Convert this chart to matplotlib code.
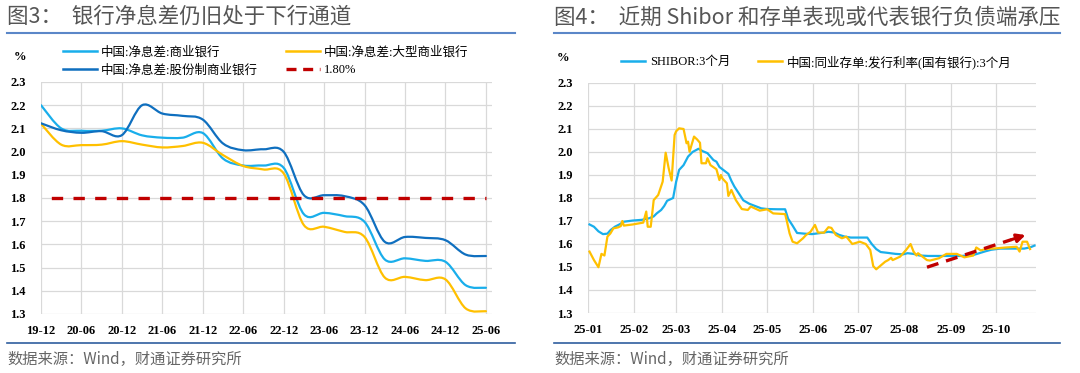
import numpy as np
import pandas as pd
import matplotlib
matplotlib.use("Agg")
import matplotlib.pyplot as plt
import matplotlib.dates as mdates
from matplotlib.path import Path
from matplotlib.patches import PathPatch
from matplotlib.lines import Line2D

# ---------------- data: left chart (quarterly NIM, %) ----------------
quarters = ["2019-12", "2020-03", "2020-06", "2020-09", "2020-12", "2021-03", "2021-06",
            "2021-09", "2021-12", "2022-03", "2022-06", "2022-09", "2022-12", "2023-03",
            "2023-06", "2023-09", "2023-12", "2024-03", "2024-06", "2024-09", "2024-12",
            "2025-03", "2025-06"]
nim_commercial = [2.20, 2.10, 2.09, 2.09, 2.10, 2.07, 2.06, 2.06, 2.08, 1.97, 1.94, 1.94,
                  1.93, 1.73, 1.736, 1.722, 1.697, 1.535, 1.54, 1.529, 1.525, 1.424, 1.413]
nim_large = [2.12, 2.03, 2.028, 2.03, 2.045, 2.03, 2.018, 2.024, 2.038, 1.985, 1.938, 1.923,
             1.906, 1.683, 1.676, 1.654, 1.632, 1.457, 1.46, 1.446, 1.449, 1.324, 1.312]
nim_jointstock = [2.122, 2.092, 2.081, 2.088, 2.071, 2.20, 2.164, 2.154, 2.138, 2.035, 2.006,
                  2.01, 1.999, 1.812, 1.812, 1.808, 1.769, 1.611, 1.632, 1.628, 1.618, 1.556, 1.55]
threshold = 1.80
left_ticks = ["19-12", "20-06", "20-12", "21-06", "21-12", "22-06", "22-12", "23-06",
              "23-12", "24-06", "24-12", "25-06"]
left_labels = ["中国:净息差:商业银行", "中国:净息差:大型商业银行",
               "中国:净息差:股份制商业银行", "1.80%"]

# ---------------- data: right chart (daily rates, %) ----------------
shibor_dates = ["01-02", "01-05", "01-08", "01-11", "01-14", "01-16", "01-19", "01-22", "01-25",
                "01-31", "02-06", "02-11", "02-14", "02-16", "02-19", "02-21", "02-23", "02-27",
                "03-01", "03-03", "03-06", "03-09", "03-12", "03-16", "03-19", "03-22", "03-24",
                "03-26", "03-28", "03-30", "04-01", "04-05", "04-07", "04-09", "04-12", "04-15",
                "04-19", "04-23", "04-27", "05-01", "05-08", "05-13", "05-15", "05-18", "05-21",
                "05-26", "05-31", "06-06", "06-11", "06-15", "06-18", "06-22", "06-26", "07-02",
                "07-07", "07-10", "07-13", "07-16", "07-20", "07-26", "07-31", "08-03", "08-07",
                "08-11", "08-17", "08-29", "09-08", "09-16", "09-20", "09-24", "09-28", "10-04",
                "10-13", "10-20", "10-24", "10-27"]
shibor_3m = [1.685, 1.675, 1.655, 1.643, 1.645, 1.66, 1.675, 1.685, 1.697,
             1.702, 1.705, 1.712, 1.72, 1.733, 1.748, 1.765, 1.788, 1.80,
             1.87, 1.922, 1.943, 1.98, 2.00, 2.014, 2.003, 1.995, 1.98,
             1.965, 1.958, 1.935, 1.925, 1.905, 1.875, 1.85, 1.82, 1.79,
             1.775, 1.765, 1.755, 1.752, 1.751, 1.751, 1.71, 1.68, 1.648,
             1.645, 1.643, 1.648, 1.653, 1.65, 1.64, 1.632, 1.628, 1.628,
             1.628, 1.60, 1.578, 1.565, 1.562, 1.557, 1.555, 1.56, 1.557,
             1.55, 1.548, 1.548, 1.548, 1.552, 1.56, 1.568, 1.575, 1.58,
             1.58, 1.58, 1.585, 1.593]
cd_dates = ["01-02", "01-05", "01-08", "01-10", "01-12", "01-14", "01-16", "01-18", "01-21",
            "01-23", "01-24", "01-25", "01-31", "02-07", "02-09", "02-10", "02-12", "02-14",
            "02-17", "02-20", "02-22", "02-24", "02-26", "02-28", "03-01", "03-03", "03-06",
            "03-08", "03-09", "03-10", "03-13", "03-15", "03-17", "03-18", "03-21", "03-22",
            "03-24", "03-28", "03-30", "03-31", "04-01", "04-04", "04-05", "04-07", "04-10",
            "04-14", "04-18", "04-20", "04-26", "05-01", "05-05", "05-13", "05-14", "05-16",
            "05-18", "05-21", "05-25", "05-27", "05-30", "06-02", "06-04", "06-08", "06-11",
            "06-13", "06-16", "06-20", "06-23", "06-27", "07-02", "07-06", "07-09", "07-11",
            "07-13", "07-19", "07-21", "07-23", "07-24", "07-29", "08-02", "08-05", "08-07",
            "08-09", "08-10", "08-13", "08-16", "08-18", "08-24", "08-29", "09-05", "09-10",
            "09-16", "09-18", "09-21", "09-24", "09-28", "10-01", "10-08", "10-15", "10-17",
            "10-19", "10-22", "10-24"]
cd_3m = [1.567, 1.53, 1.499, 1.557, 1.55, 1.632, 1.646, 1.668, 1.672,
         1.678, 1.70, 1.68, 1.685, 1.693, 1.741, 1.675, 1.675, 1.791,
         1.813, 1.871, 1.997, 1.93, 1.876, 2.074, 2.09, 2.103, 2.10,
         2.038, 2.045, 2.001, 2.067, 2.055, 2.04, 1.951, 1.951, 1.973,
         1.943, 1.925, 1.878, 1.90, 1.885, 1.864, 1.809, 1.835, 1.791,
         1.752, 1.748, 1.763, 1.745, 1.751, 1.733, 1.73, 1.704, 1.646,
         1.61, 1.603, 1.625, 1.639, 1.653, 1.683, 1.65, 1.649, 1.673,
         1.67, 1.639, 1.625, 1.632, 1.60, 1.61, 1.60, 1.574, 1.504,
         1.49, 1.523, 1.53, 1.54, 1.53, 1.545, 1.574, 1.60, 1.567,
         1.55, 1.56, 1.545, 1.53, 1.528, 1.538, 1.557, 1.557, 1.542,
         1.55, 1.585, 1.572, 1.578, 1.58, 1.581, 1.585, 1.588, 1.567,
         1.61, 1.61, 1.578]
right_ticks = ["25-01", "25-02", "25-03", "25-04", "25-05", "25-06", "25-07", "25-08",
               "25-09", "25-10"]
right_labels = ["SHIBOR:3个月", "中国:同业存单:发行利率(国有银行):3个月"]

yticks = [1.3, 1.4, 1.5, 1.6, 1.7, 1.8, 1.9, 2.0, 2.1, 2.2, 2.3]

# ---------------- styling ----------------
W, H = 1080, 373
C_CYAN = "#19AEEB"
C_YELLOW = "#FFC000"
C_BLUE = "#0F6FBF"
C_RED = "#C00000"
GRID = "#D9D9D9"
TICK_FONT = dict(family="Liberation Serif", weight="bold", size=9)
LEG_FAMILY = ["Liberation Serif", "Noto Sans CJK SC"]

fig = plt.figure(figsize=(W / 100, H / 100), dpi=100)


def fx(px):
    return px / W


def fy(py):
    return 1 - py / H


def smooth_path(x, y):
    x = np.asarray(x, float)
    y = np.asarray(y, float)
    n = len(x)
    verts = [(x[0], y[0])]
    codes = [Path.MOVETO]
    for i in range(n - 1):
        a = i - 1 if i > 0 else i
        d = i + 2 if i + 2 < n else i + 1
        c1 = (x[i] + (x[i + 1] - x[a]) / 6, y[i] + (y[i + 1] - y[a]) / 6)
        c2 = (x[i + 1] - (x[d] - x[i]) / 6, y[i + 1] - (y[d] - y[i]) / 6)
        verts += [c1, c2, (x[i + 1], y[i + 1])]
        codes += [Path.CURVE4] * 3
    return Path(verts, codes)


def style_axes(ax):
    for s in ax.spines.values():
        s.set_visible(False)
    ax.grid(True, color=GRID, lw=0.9)
    ax.set_axisbelow(True)
    ax.tick_params(length=0)
    ax.set_ylim(1.3, 2.3)
    ax.set_yticks(yticks)
    ax.set_yticklabels([f"{v:.1f}" for v in yticks], fontdict=TICK_FONT)
    ax.tick_params(axis="y", pad=11)
    ax.tick_params(axis="x", pad=8)


legprops = dict(family=LEG_FAMILY, size=9)
LEGKW = dict(frameon=False, prop=legprops, handletextpad=0.35, labelspacing=0.45,
             borderpad=0, borderaxespad=0)

# ---------------- left chart ----------------
axL = fig.add_axes([fx(41), fy(314), fx(451), 232 / H])
style_axes(axL)
qper = pd.PeriodIndex(quarters, freq="M")
base = pd.Period("2019-12", freq="M")
mx = np.array([(p - base).n for p in qper], float)

for vals, col in [(nim_commercial, C_CYAN), (nim_large, C_YELLOW), (nim_jointstock, C_BLUE)]:
    axL.add_patch(PathPatch(smooth_path(mx, vals), fill=False, edgecolor=col, lw=1.6,
                            capstyle="round", joinstyle="round"))
axL.plot(mx, [threshold] * len(mx), color=C_RED, lw=2.4,
         linestyle=(3.4, (3.4, 3.1)), solid_capstyle="butt")
axL.set_xlim(0, 66.9)
tick_pos = np.arange(0, 67, 6)
axL.set_xticks(tick_pos)
axL.set_xticklabels(left_ticks, fontdict=TICK_FONT)

hL = [Line2D([], [], color=C_CYAN, lw=1.8), Line2D([], [], color=C_YELLOW, lw=1.8),
      Line2D([], [], color=C_BLUE, lw=1.8), Line2D([], [], color=C_RED, lw=2.4, linestyle=(0, (3, 2)))]
fig.legend([hL[0], hL[2]], [left_labels[0], left_labels[2]], loc="upper left",
           bbox_to_anchor=(fx(63), fy(46)), handlelength=2.7, **LEGKW)
fig.legend([hL[1], hL[3]], [left_labels[1], left_labels[3]], loc="upper left",
           bbox_to_anchor=(fx(286), fy(46)), handlelength=2.7, **LEGKW)

# ---------------- right chart ----------------
axR = fig.add_axes([fx(588), fy(313), fx(448), 230 / H])
style_axes(axR)
sd = pd.to_datetime(["2025-" + d for d in shibor_dates])
cdd = pd.to_datetime(["2025-" + d for d in cd_dates])
axR.plot(sd, shibor_3m, color=C_CYAN, lw=1.6, solid_joinstyle="round")
axR.plot(cdd, cd_3m, color=C_YELLOW, lw=1.6, solid_joinstyle="round")
x0 = pd.Timestamp("2025-01-01")
axR.set_xlim(x0, x0 + pd.Timedelta(days=300))
mticks = pd.date_range("2025-01-01", periods=len(right_ticks), freq="MS")
axR.set_xticks(mticks)
axR.set_xticklabels(right_ticks, fontdict=TICK_FONT)

# trend arrow
a_start = (mdates.date2num(pd.Timestamp("2025-08-16")), 1.499)
a_end = (mdates.date2num(pd.Timestamp("2025-10-21")), 1.639)
frac = 0.86
a_mid = (a_start[0] + frac * (a_end[0] - a_start[0]), a_start[1] + frac * (a_end[1] - a_start[1]))
axR.plot([a_start[0], a_mid[0]], [a_start[1], a_mid[1]], color=C_RED, lw=2.4,
         linestyle=(0, (3.6, 2.4)), solid_capstyle="butt")
axR.annotate("", xy=a_end, xytext=a_mid,
             arrowprops=dict(arrowstyle="-|>,head_length=0.5,head_width=0.25", color=C_RED,
                             lw=2.2, shrinkA=0, shrinkB=0))

hR = [Line2D([], [], color=C_CYAN, lw=1.8), Line2D([], [], color=C_YELLOW, lw=1.8)]
fig.legend([hR[0]], [right_labels[0]], loc="center left", bbox_to_anchor=(fx(621), fy(62)),
           handlelength=1.95, **LEGKW)
fig.legend([hR[1]], [right_labels[1]], loc="center left", bbox_to_anchor=(fx(758), fy(62)),
           handlelength=1.95, **LEGKW)

# ---------------- titles, frame lines, notes ----------------
TITLE_FAMILY = ["Noto Sans CJK SC", "DejaVu Sans"]
fig.text(fx(7), fy(17), "图3：  银行净息差仍旧处于下行通道", family=TITLE_FAMILY, size=15.5,
         color="#555555", va="center", ha="left")
fig.text(fx(554), fy(17), "图4：  近期 Shibor 和存单表现或代表银行负债端承压", family=TITLE_FAMILY,
         size=15.5, color="#555555", va="center", ha="left")
for xa, xb in [(7, 515), (554, 1060)]:
    fig.add_artist(Line2D([fx(xa), fx(xb)], [fy(33), fy(33)], color="#5B87C8", lw=1.5))
    fig.add_artist(Line2D([fx(xa), fx(xb)], [fy(343), fy(343)], color="#2F5D9E", lw=1.2))
fig.text(fx(7), fy(359), "数据来源：Wind，财通证券研究所", family=TITLE_FAMILY, size=11,
         color="#666666", va="center", ha="left")
fig.text(fx(554), fy(359), "数据来源：Wind，财通证券研究所", family=TITLE_FAMILY, size=11,
         color="#666666", va="center", ha="left")
fig.text(fx(20), fy(57), "%", family="Liberation Serif", weight="bold", size=9,
         va="center", ha="center")
fig.text(fx(563), fy(58), "%", family="Liberation Serif", weight="bold", size=9,
         va="center", ha="center")

fig.savefig("out.png", dpi=100)
